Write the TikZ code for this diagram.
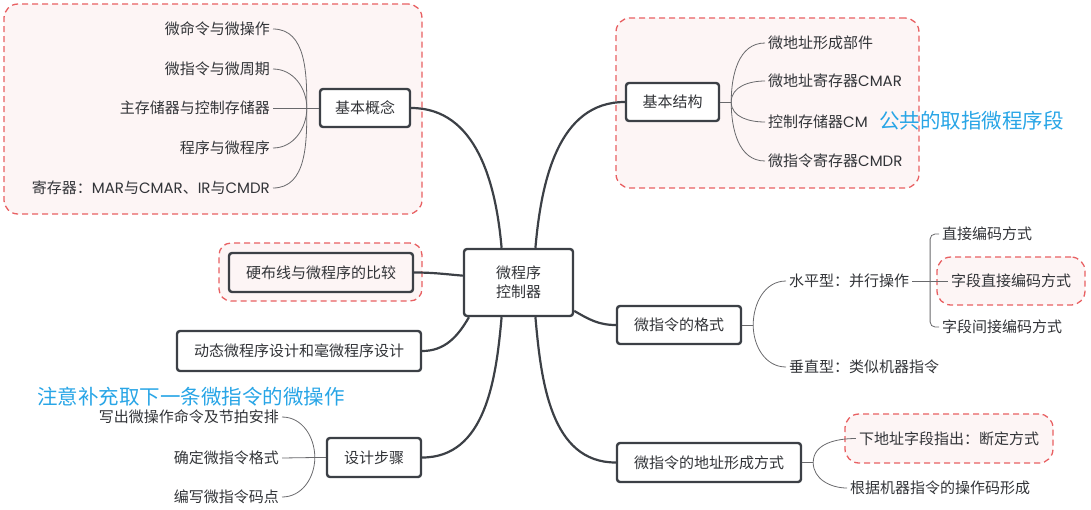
\documentclass[tikz,border=0pt]{standalone}
\usepackage{fontspec}
\setmainfont{Noto Sans CJK SC}
\newfontfamily\latfont{Poppins}
\newcommand{\lattxt}[1]{{\latfont #1}}
\usepackage{xcolor}
\usepackage{tikz}
\usetikzlibrary{positioning,fit,calc}

\definecolor{boxline}{RGB}{60,64,70}
\definecolor{zonered}{RGB}{232,96,98}
\definecolor{zonefill}{RGB}{253,245,245}
\definecolor{leafline}{RGB}{105,105,108}
\definecolor{notecyan}{RGB}{40,165,230}
\definecolor{txt}{RGB}{50,52,56}

\begin{document}
\begin{tikzpicture}[x=1pt, y=1pt,
		trunk/.style = {line width=2.2pt, draw=boxline},
		branch/.style = {line width=0.8pt, draw=leafline}]
				\tikzset{topic/.style={draw=boxline, line width=2.4pt, rounded corners=3pt, fill=white, text=txt, inner sep=0pt, align=center, font=\fontsize{15}{19.5}\selectfont}}
				\tikzset{leaf/.style={text=txt, inner sep=3pt, font=\fontsize{15}{18}\selectfont}}
				\tikzset{zone/.style={draw=zonered, dash pattern=on 6pt off 4pt, line width=1.3pt, fill=zonefill, rounded corners=14pt, inner sep=0pt}}
				\tikzset{note/.style={text=notecyan, inner sep=0pt, font=\fontsize{20.5}{24}\selectfont}}

				\useasboundingbox (0,0) rectangle (1091,-509);

				% Zonas marcadas
				\node[fit={(4,-4) (422,-214)}, zone] (zgn) {};
				\node[fit={(616,-18) (919,-188)}, zone] (zjg) {};
				\node[fit={(219,-243) (422,-301)}, zone, rounded corners=12pt] (zyb) {};
				\node[fit={(937,-257) (1085,-305)}, zone] (zzd) {};
				\node[fit={(845,-414) (1053,-463)}, zone] (zxdz) {};

				% Centro
				\node[topic, minimum width=109, minimum height=67] (ctrl) at (518.5,-282.5) {微程序\\控制器};

				% Ramas principales
				\node[topic, minimum width=90, minimum height=38] (gn) at (365,-108) {基本概念};
				\node[topic, minimum width=93, minimum height=38] (jg) at (672.5,-102) {基本结构};
				\node[topic, minimum width=184, minimum height=39, fill=zonefill] (yb) at (321,-272.5) {硬布线与微程序的比较};
				\node[topic, minimum width=244, minimum height=40] (dt) at (299,-351) {动态微程序设计和毫微程序设计};
				\node[topic, minimum width=94, minimum height=39] (bz) at (374,-457.5) {设计步骤};
				\node[topic, minimum width=124, minimum height=38] (gs) at (679,-325) {微指令的格式};
				\node[topic, minimum width=184, minimum height=39] (dz) at (709,-462.5) {微指令的地址形成方式};

				% Hojas
				\node[leaf, anchor=east] (gn1) at (273,-29) {微命令与微操作};
				\node[leaf, anchor=east] (gn2) at (273,-69) {微指令与微周期};
				\node[leaf, anchor=east] (gn3) at (273,-108) {主存储器与控制存储器};
				\node[leaf, anchor=east] (gn4) at (273,-148) {程序与微程序};
				\node[leaf, anchor=east] (gn5) at (273,-188) {寄存器：\lattxt{MAR}与\lattxt{CMAR}、\lattxt{IR}与\lattxt{CMDR}};

				\node[leaf, anchor=west] (jg1) at (765,-43) {微地址形成部件};
				\node[leaf, anchor=west] (jg2) at (765,-81) {微地址寄存器\lattxt{CMAR}};
				\node[leaf, anchor=west] (jg3) at (765,-122) {控制存储器\lattxt{CM}};
				\node[leaf, anchor=west] (jg4) at (765,-161) {微指令寄存器\lattxt{CMDR}};

				\node[leaf, anchor=west] (spx) at (786,-281) {水平型：并行操作};
				\node[leaf, anchor=west] (czx) at (786,-367) {垂直型：类似机器指令};
				\node[leaf, anchor=west] (zj) at (939,-234) {直接编码方式};
				\node[leaf] (zd) at (1011,-281) {字段直接编码方式};
				\node[leaf, anchor=west] (jj) at (939,-327) {字段间接编码方式};

				\node[leaf] (xdz) at (949,-438.5) {下地址字段指出：断定方式};
				\node[leaf, anchor=west] (gj) at (847,-488) {根据机器指令的操作码形成};

				\node[leaf, anchor=east] (bz1) at (282,-417) {写出微操作命令及节拍安排};
				\node[leaf, anchor=east] (bz2) at (282,-458) {确定微指令格式};
				\node[leaf, anchor=east] (bz3) at (282,-497) {编写微指令码点};

				% Notas
				\node[note, anchor=west] (nt1) at (879,-121) {公共的取指微程序段};
				\node[note, anchor=west] (nt2) at (37,-397) {注意补充取下一条微指令的微操作};

				% Conexiones del centro
				\draw[trunk] (ctrl.116) to[out=95,in=0] (gn.east);
				\draw[trunk] (ctrl.64) to[out=85,in=180] (jg.west);
				\draw[trunk] (ctrl.173) to[out=175,in=0] (yb.east);
				\draw[trunk] (ctrl.215) to[out=240,in=0] (dt.east);
				\draw[trunk] (ctrl.244) to[out=265,in=0] (bz.east);
				\draw[trunk] (ctrl.333) to[out=-30,in=180] (gs.west);
				\draw[trunk] (ctrl.296) to[out=275,in=180] (dz.west);

				% Bifurcaciones
				\coordinate (gnf) at ($(gn.west)+(-12,0)$);
				\coordinate (jgf) at ($(jg.east)+(11,0)$);
				\coordinate (gsf) at ($(gs.east)+(11,0)$);
				\coordinate (dzf) at ($(dz.east)+(11,0)$);
				\coordinate (bzf) at ($(bz.west)+(-11,0)$);
				\coordinate (spf) at ($(spx.east)!0.5!(zd.west)$);

				\draw[branch] (gn.west) -- (gnf);
				\draw[branch] (gnf) to[out=90,in=0] (gn1.east);
				\draw[branch] (gnf) to[out=90,in=0] (gn2.east);
				\draw[branch] (gnf) -- (gn3.east);
				\draw[branch] (gnf) to[out=-90,in=0] (gn4.east);
				\draw[branch] (gnf) to[out=-90,in=0] (gn5.east);

				\draw[branch] (jg.east) -- (jgf);
				\draw[branch] (jgf) to[out=90,in=180] (jg1.west);
				\draw[branch] (jgf) to[out=90,in=180] (jg2.west);
				\draw[branch] (jgf) to[out=-90,in=180] (jg3.west);
				\draw[branch] (jgf) to[out=-90,in=180] (jg4.west);

				\draw[branch] (gs.east) -- (gsf);
				\draw[branch] (gsf) to[out=90,in=180] (spx.west);
				\draw[branch] (gsf) to[out=-90,in=180] (czx.west);

				\draw[branch] (spx.east) -- (zd.west);
				\draw[branch, rounded corners=5pt] (zj.west) -| (spf) |- (jj.west);

				\draw[branch] (dz.east) -- (dzf);
				\draw[branch] (dzf) to[out=90,in=180] (xdz.west);
				\draw[branch] (dzf) to[out=-90,in=180] (gj.west);

				\draw[branch] (bz.west) -- (bzf);
				\draw[branch] (bzf) to[out=90,in=0] (bz1.east);
				\draw[branch] (bzf) -- (bz2.east);
				\draw[branch] (bzf) to[out=-90,in=0] (bz3.east);

			\end{tikzpicture}
\end{document}
